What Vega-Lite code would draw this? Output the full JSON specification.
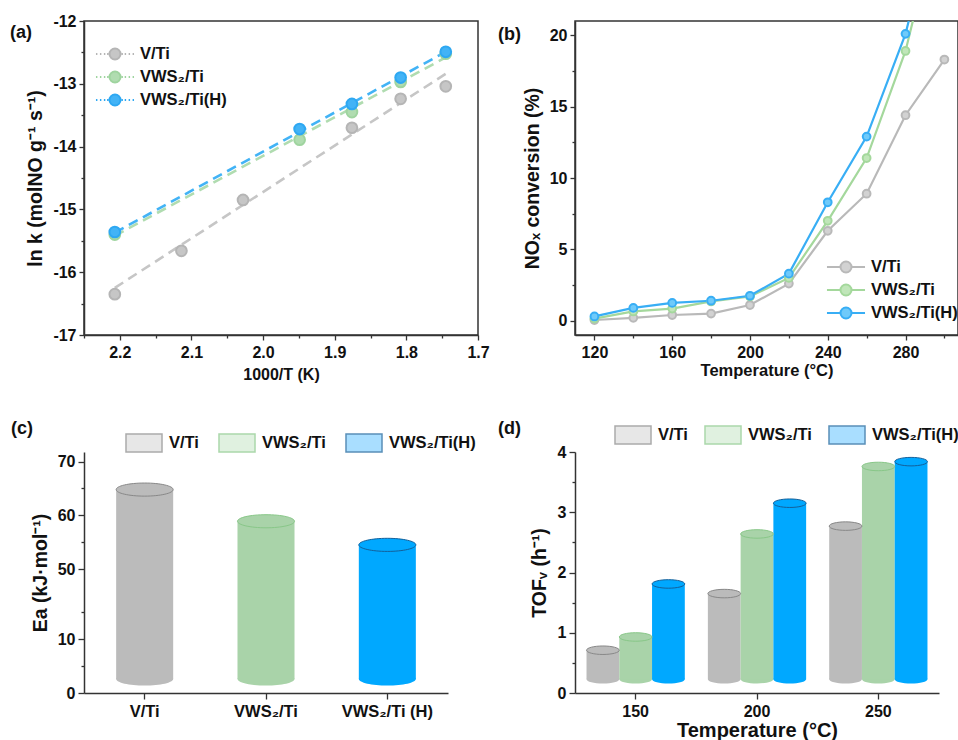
{
  "$schema": "https://vega.github.io/schema/vega-lite/v6.json",
  "background": "white",
  "padding": {"left": 9, "top": 12, "right": 0, "bottom": 0},
  "columns": 2,
  "spacing": {"row": 117, "column": 97},
  "bounds": "flush",
  "resolve": {
    "scale": {"x": "independent", "y": "independent", "color": "independent", "fill": "independent", "stroke": "independent", "xOffset": "independent"},
    "legend": {"color": "independent", "fill": "independent", "stroke": "independent"}
  },
  "config": {
    "font": "Liberation Sans",
    "view": {"stroke": null},
    "axis": {
      "labelFont": "Liberation Sans", "labelFontSize": 16, "labelFontWeight": "bold", "labelColor": "#111",
      "titleFont": "Liberation Sans", "titleFontSize": 19.5, "titleFontWeight": "bold", "titleColor": "#111",
      "domainColor": "#333", "domainWidth": 1.5, "tickColor": "#333", "tickWidth": 1.3, "grid": false,
      "labelOverlap": false, "labelFlush": false
    },
    "legend": {"labelFont": "Liberation Sans", "labelFontSize": 16.5, "labelFontWeight": "bold", "labelColor": "#111", "padding": 0},
    "title": {"font": "Liberation Sans", "fontSize": 18, "fontWeight": "bold", "color": "#111"}
  },
  "datasets": {
    "arrPts": [
      {"sample": "V/Ti", "x": 2.207, "y": -16.35},
      {"sample": "V/Ti", "x": 2.114, "y": -15.66},
      {"sample": "V/Ti", "x": 2.028, "y": -14.85},
      {"sample": "V/Ti", "x": 1.876, "y": -13.70},
      {"sample": "V/Ti", "x": 1.808, "y": -13.24},
      {"sample": "V/Ti", "x": 1.745, "y": -13.04},
      {"sample": "VWS₂/Ti", "x": 2.207, "y": -15.40},
      {"sample": "VWS₂/Ti", "x": 1.949, "y": -13.89},
      {"sample": "VWS₂/Ti", "x": 1.876, "y": -13.45},
      {"sample": "VWS₂/Ti", "x": 1.808, "y": -12.97},
      {"sample": "VWS₂/Ti", "x": 1.745, "y": -12.52},
      {"sample": "VWS₂/Ti(H)", "x": 2.207, "y": -15.36},
      {"sample": "VWS₂/Ti(H)", "x": 1.949, "y": -13.72},
      {"sample": "VWS₂/Ti(H)", "x": 1.876, "y": -13.32},
      {"sample": "VWS₂/Ti(H)", "x": 1.808, "y": -12.90},
      {"sample": "VWS₂/Ti(H)", "x": 1.745, "y": -12.49}
    ],
    "arrFit": [
      {"sample": "V/Ti", "x": 2.207, "y": -16.25},
      {"sample": "V/Ti", "x": 1.745, "y": -12.84},
      {"sample": "VWS₂/Ti", "x": 2.207, "y": -15.42},
      {"sample": "VWS₂/Ti", "x": 1.745, "y": -12.58},
      {"sample": "VWS₂/Ti(H)", "x": 2.207, "y": -15.37},
      {"sample": "VWS₂/Ti(H)", "x": 1.745, "y": -12.49}
    ],
    "conv": [
      {"sample": "V/Ti", "T": 120, "c": 0.05}, {"sample": "V/Ti", "T": 140, "c": 0.2}, {"sample": "V/Ti", "T": 160, "c": 0.4},
      {"sample": "V/Ti", "T": 180, "c": 0.5}, {"sample": "V/Ti", "T": 200, "c": 1.1}, {"sample": "V/Ti", "T": 220, "c": 2.6},
      {"sample": "V/Ti", "T": 240, "c": 6.3}, {"sample": "V/Ti", "T": 260, "c": 8.9}, {"sample": "V/Ti", "T": 280, "c": 14.4},
      {"sample": "V/Ti", "T": 300, "c": 18.3},
      {"sample": "VWS₂/Ti", "T": 120, "c": 0.15}, {"sample": "VWS₂/Ti", "T": 140, "c": 0.65}, {"sample": "VWS₂/Ti", "T": 160, "c": 0.85},
      {"sample": "VWS₂/Ti", "T": 180, "c": 1.35}, {"sample": "VWS₂/Ti", "T": 200, "c": 1.7}, {"sample": "VWS₂/Ti", "T": 220, "c": 3.0},
      {"sample": "VWS₂/Ti", "T": 240, "c": 7.0}, {"sample": "VWS₂/Ti", "T": 260, "c": 11.4}, {"sample": "VWS₂/Ti", "T": 280, "c": 18.9},
      {"sample": "VWS₂/Ti", "T": 300, "c": 30.0},
      {"sample": "VWS₂/Ti(H)", "T": 120, "c": 0.3}, {"sample": "VWS₂/Ti(H)", "T": 140, "c": 0.9}, {"sample": "VWS₂/Ti(H)", "T": 160, "c": 1.25},
      {"sample": "VWS₂/Ti(H)", "T": 180, "c": 1.4}, {"sample": "VWS₂/Ti(H)", "T": 200, "c": 1.75}, {"sample": "VWS₂/Ti(H)", "T": 220, "c": 3.3},
      {"sample": "VWS₂/Ti(H)", "T": 240, "c": 8.3}, {"sample": "VWS₂/Ti(H)", "T": 260, "c": 12.9}, {"sample": "VWS₂/Ti(H)", "T": 280, "c": 20.1},
      {"sample": "VWS₂/Ti(H)", "T": 300, "c": 31.0}
    ],
    "ea": [
      {"sample": "V/Ti", "Ea": 64.8},
      {"sample": "VWS₂/Ti", "Ea": 58.9},
      {"sample": "VWS₂/Ti(H)", "Ea": 54.5}
    ],
    "tof": [
      {"T": "150", "sample": "V/Ti", "TOF": 0.71}, {"T": "150", "sample": "VWS₂/Ti", "TOF": 0.93}, {"T": "150", "sample": "VWS₂/Ti(H)", "TOF": 1.81},
      {"T": "200", "sample": "V/Ti", "TOF": 1.65}, {"T": "200", "sample": "VWS₂/Ti", "TOF": 2.64}, {"T": "200", "sample": "VWS₂/Ti(H)", "TOF": 3.15},
      {"T": "250", "sample": "V/Ti", "TOF": 2.77}, {"T": "250", "sample": "VWS₂/Ti", "TOF": 3.76}, {"T": "250", "sample": "VWS₂/Ti(H)", "TOF": 3.84}
    ]
  },
  "concat": [
    {
      "width": 394, "height": 314,
      "view": {"stroke": "#333", "strokeWidth": 1.5},
      "title": {"text": "(a)", "anchor": "start", "frame": "group", "offset": -29, "dx": -74},
      "resolve": {"legend": {"color": "independent", "stroke": "independent"}},
      "encoding": {
        "x": {"field": "x", "type": "quantitative",
          "scale": {"domain": [1.7, 2.25], "reverse": true, "nice": false, "zero": false},
          "axis": {"title": "1000/T (K)", "titleFontSize": 16, "titlePadding": 6, "labelPadding": 4,
            "values": [2.25, 2.2, 2.15, 2.1, 2.05, 2.0, 1.95, 1.9, 1.85, 1.8, 1.75, 1.7],
            "labelExpr": "abs(datum.value*10-round(datum.value*10))>0.01 ? '' : format(datum.value,'.1f')",
            "tickSize": {"condition": {"test": "abs(datum.value*10-round(datum.value*10))>0.01", "value": 3}, "value": 5}}},
        "y": {"field": "y", "type": "quantitative",
          "scale": {"domain": [-17, -12], "nice": false, "zero": false},
          "axis": {"title": "ln k (molNO g⁻¹ s⁻¹)", "titlePadding": 7, "labelPadding": 3,
            "values": [-17, -16.5, -16, -15.5, -15, -14.5, -14, -13.5, -13, -12.5, -12],
            "labelExpr": "datum.value % 1 != 0 ? '' : '' + datum.value",
            "tickSize": {"condition": {"test": "datum.value % 1 != 0", "value": 3}, "value": 5}}}
      },
      "layer": [
        {"data": {"name": "arrFit"},
         "mark": {"type": "line", "strokeDash": [10, 6], "strokeWidth": 2.6},
         "encoding": {
           "color": {"field": "sample", "type": "nominal", "legend": null,
             "scale": {"domain": ["V/Ti", "VWS₂/Ti", "VWS₂/Ti(H)"], "range": ["#c6c6c6", "#b0dcb0", "#42b3f6"]}}
         }},
        {"data": {"name": "arrPts"},
         "mark": {"type": "point", "filled": true, "size": 115, "opacity": 1},
         "encoding": {
           "color": {"field": "sample", "type": "nominal",
             "scale": {"domain": ["V/Ti", "VWS₂/Ti", "VWS₂/Ti(H)"], "range": ["#c6c6c6", "#b0dcb0", "#42b3f6"]},
             "legend": {"orient": "none", "legendX": 19, "legendY": 21, "direction": "vertical", "title": null,
               "symbolType": "M-1.73,0H-1.6M-1.37,0H-1.24M-1.01,0H-0.88M-0.72,0H-0.6M0.6,0H0.72M0.88,0H1.01M1.24,0H1.37M1.6,0H1.73M-0.5,0A0.5,0.5 0 1,0 0.5,0A0.5,0.5 0 1,0 -0.5,0Z",
               "symbolSize": 484, "symbolStrokeWidth": 2, "labelOffset": 13, "rowPadding": 1}},
           "stroke": {"field": "sample", "type": "nominal",
             "scale": {"domain": ["V/Ti", "VWS₂/Ti", "VWS₂/Ti(H)"], "range": ["#b5b5b5", "#9fd49f", "#2ea8f2"]},
             "legend": {"orient": "none", "legendX": 19, "legendY": 21, "direction": "vertical", "title": null,
               "symbolType": "M-1.73,0H-1.6M-1.37,0H-1.24M-1.01,0H-0.88M-0.72,0H-0.6M0.6,0H0.72M0.88,0H1.01M1.24,0H1.37M1.6,0H1.73M-0.5,0A0.5,0.5 0 1,0 0.5,0A0.5,0.5 0 1,0 -0.5,0Z",
               "symbolSize": 484, "symbolStrokeWidth": 2, "labelOffset": 13, "rowPadding": 1}}
         }}
      ]
    },
    {
      "width": 383, "height": 314,
      "view": {"stroke": "#333", "strokeWidth": 1.5},
      "title": {"text": "(b)", "anchor": "start", "frame": "group", "offset": -23, "dx": -77},
      "data": {"name": "conv"},
      "resolve": {"legend": {"color": "independent", "stroke": "independent"}},
      "encoding": {
        "x": {"field": "T", "type": "quantitative",
          "scale": {"domain": [110, 307], "nice": false, "zero": false},
          "axis": {"title": "Temperature (°C)", "titleFontSize": 16.5, "titlePadding": 2, "labelPadding": 4,
            "values": [120, 140, 160, 180, 200, 220, 240, 260, 280, 300],
            "labelExpr": "datum.value % 40 != 0 ? '' : '' + datum.value",
            "tickSize": {"condition": {"test": "datum.value % 40 != 0", "value": 3}, "value": 5}}},
        "y": {"field": "c", "type": "quantitative",
          "scale": {"domain": [-1, 21], "nice": false, "zero": false},
          "axis": {"title": "NOₓ conversion (%)", "titlePadding": 7, "labelPadding": 3,
            "values": [0, 2.5, 5, 7.5, 10, 12.5, 15, 17.5, 20],
            "labelExpr": "datum.value % 5 != 0 ? '' : '' + datum.value",
            "tickSize": {"condition": {"test": "datum.value % 5 != 0", "value": 3}, "value": 5}}}
      },
      "layer": [
        {"mark": {"type": "line", "strokeWidth": 2.2, "clip": true},
         "encoding": {
           "stroke": {"field": "sample", "type": "nominal", "legend": null,
             "scale": {"domain": ["V/Ti", "VWS₂/Ti", "VWS₂/Ti(H)"], "range": ["#b9b9b9", "#a4d89c", "#38aef5"]}}
         }},
        {"mark": {"type": "point", "filled": true, "size": 60, "opacity": 1, "clip": true},
         "encoding": {
           "color": {"field": "sample", "type": "nominal",
             "scale": {"domain": ["V/Ti", "VWS₂/Ti", "VWS₂/Ti(H)"], "range": ["#d2d2d2", "#c0e6b9", "#6fcafa"]},
             "legend": {"orient": "none", "legendX": 259, "legendY": 234, "direction": "vertical", "title": null,
               "symbolType": "M-1.73,0H-0.5M0.5,0H1.73M-0.5,0A0.5,0.5 0 1,0 0.5,0A0.5,0.5 0 1,0 -0.5,0Z",
               "symbolSize": 484, "symbolStrokeWidth": 2, "labelOffset": 13, "rowPadding": 1}},
           "stroke": {"field": "sample", "type": "nominal",
             "scale": {"domain": ["V/Ti", "VWS₂/Ti", "VWS₂/Ti(H)"], "range": ["#b9b9b9", "#a4d89c", "#38aef5"]},
             "legend": {"orient": "none", "legendX": 259, "legendY": 234, "direction": "vertical", "title": null,
               "symbolType": "M-1.73,0H-0.5M0.5,0H1.73M-0.5,0A0.5,0.5 0 1,0 0.5,0A0.5,0.5 0 1,0 -0.5,0Z",
               "symbolSize": 484, "symbolStrokeWidth": 2, "labelOffset": 13, "rowPadding": 1}}
         }}
      ]
    },
    {
      "width": 364, "height": 241,
      "title": {"text": "(c)", "anchor": "start", "frame": "group", "offset": -14, "dx": -73},
      "data": {"name": "ea"},
      "resolve": {"legend": {"color": "independent", "fill": "independent", "stroke": "independent"}},
      "encoding": {
        "x": {"field": "sample", "type": "nominal", "sort": null,
          "scale": {"paddingInner": 0.53, "paddingOuter": 0.265},
          "axis": {"title": null, "labelAngle": 0, "labelFontSize": 16.5, "tickSize": 6, "labelPadding": 4,
            "labelExpr": "datum.label == 'VWS₂/Ti(H)' ? 'VWS₂/Ti (H)' : datum.label"}},
        "y": {"field": "Ea", "type": "quantitative",
          "scale": {"domain": [0, 17.7, 44.6, 71.8], "range": [241, 146, 146, 0], "nice": false, "zero": false},
          "axis": {"title": "Ea (kJ·mol⁻¹)", "titlePadding": 7, "labelPadding": 3,
            "values": [0, 5, 10, 15, 50, 55, 60, 65, 70],
            "labelExpr": "datum.value % 10 != 0 ? '' : '' + datum.value",
            "tickSize": {"condition": {"test": "datum.value % 10 != 0", "value": 3}, "value": 6}}}
      },
      "layer": [
        {"mark": {"type": "point", "shape": "M-1,0A1,0.23 0 1,0 1,0A1,0.23 0 1,0 -1,0Z", "size": 3249, "filled": true, "opacity": 1},
         "encoding": {
           "y": {"datum": 2.6, "type": "quantitative"},
           "color": {"field": "sample", "type": "nominal", "legend": null,
             "scale": {"domain": ["V/Ti", "VWS₂/Ti", "VWS₂/Ti(H)"], "range": ["#bbbbbb", "#a9d3a9", "#00a8ff"]}}}},
        {"mark": {"type": "bar"},
         "encoding": {
           "y2": {"datum": 2.6},
           "color": {"field": "sample", "type": "nominal", "legend": null,
             "scale": {"domain": ["V/Ti", "VWS₂/Ti", "VWS₂/Ti(H)"], "range": ["#bbbbbb", "#a9d3a9", "#00a8ff"]}}}},
        {"mark": {"type": "point", "shape": "M-1,0A1,0.23 0 1,0 1,0A1,0.23 0 1,0 -1,0Z", "size": 3249, "filled": true, "opacity": 1, "strokeWidth": 1},
         "encoding": {
           "color": {"field": "sample", "type": "nominal", "legend": null,
             "scale": {"domain": ["V/Ti", "VWS₂/Ti", "VWS₂/Ti(H)"], "range": ["#bbbbbb", "#a9d3a9", "#00a8ff"]}},
           "stroke": {"field": "sample", "type": "nominal", "legend": null,
             "scale": {"domain": ["V/Ti", "VWS₂/Ti", "VWS₂/Ti(H)"], "range": ["#888888", "#88c788", "#14609a"]}}}},
        {"data": {"values": []},
         "mark": {"type": "point", "shape": "square"},
         "encoding": {
           "fill": {"field": "sample", "type": "nominal",
             "scale": {"domain": ["V/Ti", "VWS₂/Ti", "VWS₂/Ti(H)"], "range": ["#dedede", "#d4ecd4", "#86d1ff"]},
             "legend": {"orient": "none", "legendX": 41, "legendY": -28, "direction": "horizontal", "columns": 3, "title": null,
               "symbolType": "M-1,-0.5H1V0.5H-1Z", "symbolSize": 1296, "symbolStrokeWidth": 1.5, "labelOffset": 6, "columnPadding": 17}},
           "stroke": {"field": "sample", "type": "nominal",
             "scale": {"domain": ["V/Ti", "VWS₂/Ti", "VWS₂/Ti(H)"], "range": ["#555555", "#5cbf5c", "#1a5f94"]},
             "legend": {"orient": "none", "legendX": 41, "legendY": -28, "direction": "horizontal", "columns": 3, "title": null,
               "symbolType": "M-1,-0.5H1V0.5H-1Z", "symbolSize": 1296, "symbolStrokeWidth": 1.5, "labelOffset": 6, "columnPadding": 17}}}}
      ]
    },
    {
      "width": 364, "height": 241,
      "title": {"text": "(d)", "anchor": "start", "frame": "group", "offset": -22, "dx": -77},
      "data": {"name": "tof"},
      "resolve": {"legend": {"color": "independent", "fill": "independent", "stroke": "independent"}},
      "encoding": {
        "x": {"field": "T", "type": "nominal", "sort": null,
          "scale": {"paddingInner": 0.19, "paddingOuter": 0.095},
          "axis": {"title": "Temperature (°C)", "titleFontSize": 20, "titlePadding": 1, "labelAngle": 0, "labelFontSize": 16, "tickSize": 6, "labelPadding": 4}},
        "xOffset": {"field": "sample", "type": "nominal", "sort": null, "scale": {"paddingInner": 0, "paddingOuter": 0}},
        "y": {"field": "TOF", "type": "quantitative",
          "scale": {"domain": [0, 4], "nice": false, "zero": false},
          "axis": {"title": "TOFᵥ (h⁻¹)", "titlePadding": 8, "labelPadding": 3,
            "values": [0, 0.5, 1, 1.5, 2, 2.5, 3, 3.5, 4],
            "labelExpr": "datum.value % 1 != 0 ? '' : '' + datum.value",
            "tickSize": {"condition": {"test": "datum.value % 1 != 0", "value": 3}, "value": 6}}}
      },
      "layer": [
        {"mark": {"type": "point", "shape": "M-1,0A1,0.26 0 1,0 1,0A1,0.26 0 1,0 -1,0Z", "size": 1070, "filled": true, "opacity": 1},
         "encoding": {
           "y": {"datum": 0.23, "type": "quantitative"},
           "color": {"field": "sample", "type": "nominal", "legend": null,
             "scale": {"domain": ["V/Ti", "VWS₂/Ti", "VWS₂/Ti(H)"], "range": ["#bbbbbb", "#a9d3a9", "#00a8ff"]}}}},
        {"mark": {"type": "bar"},
         "encoding": {
           "y2": {"datum": 0.23},
           "color": {"field": "sample", "type": "nominal", "legend": null,
             "scale": {"domain": ["V/Ti", "VWS₂/Ti", "VWS₂/Ti(H)"], "range": ["#bbbbbb", "#a9d3a9", "#00a8ff"]}}}},
        {"mark": {"type": "point", "shape": "M-1,0A1,0.26 0 1,0 1,0A1,0.26 0 1,0 -1,0Z", "size": 1070, "filled": true, "opacity": 1, "strokeWidth": 1},
         "encoding": {
           "color": {"field": "sample", "type": "nominal", "legend": null,
             "scale": {"domain": ["V/Ti", "VWS₂/Ti", "VWS₂/Ti(H)"], "range": ["#bbbbbb", "#a9d3a9", "#00a8ff"]}},
           "stroke": {"field": "sample", "type": "nominal", "legend": null,
             "scale": {"domain": ["V/Ti", "VWS₂/Ti", "VWS₂/Ti(H)"], "range": ["#888888", "#88c788", "#14609a"]}}}},
        {"data": {"values": []},
         "mark": {"type": "point", "shape": "square"},
         "encoding": {
           "fill": {"field": "sample", "type": "nominal",
             "scale": {"domain": ["V/Ti", "VWS₂/Ti", "VWS₂/Ti(H)"], "range": ["#dedede", "#d4ecd4", "#86d1ff"]},
             "legend": {"orient": "none", "legendX": 39, "legendY": -36, "direction": "horizontal", "columns": 3, "title": null,
               "symbolType": "M-1,-0.5H1V0.5H-1Z", "symbolSize": 1296, "symbolStrokeWidth": 1.5, "labelOffset": 6, "columnPadding": 14}},
           "stroke": {"field": "sample", "type": "nominal",
             "scale": {"domain": ["V/Ti", "VWS₂/Ti", "VWS₂/Ti(H)"], "range": ["#555555", "#5cbf5c", "#1a5f94"]},
             "legend": {"orient": "none", "legendX": 39, "legendY": -36, "direction": "horizontal", "columns": 3, "title": null,
               "symbolType": "M-1,-0.5H1V0.5H-1Z", "symbolSize": 1296, "symbolStrokeWidth": 1.5, "labelOffset": 6, "columnPadding": 14}}}}
      ]
    }
  ]
}
